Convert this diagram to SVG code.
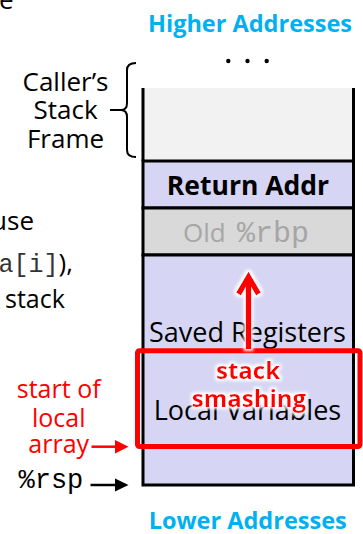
<svg xmlns="http://www.w3.org/2000/svg" width="363" height="534" viewBox="0 0 363 534">
<style>
.sans{font-family:"Open Sans","Liberation Sans",sans-serif}
.mono{font-family:"Liberation Mono","Courier New",monospace}
.addr{font-family:"Open Sans","Liberation Sans",sans-serif;font-weight:bold;font-size:23.5px;fill:#00b0f0;text-anchor:middle}
.box{stroke:#000;stroke-width:3}
.lab{font-family:"Open Sans","Liberation Sans",sans-serif;font-size:27px;fill:#000;text-anchor:middle}
.red{fill:#ff0000}
</style>
<defs>
<filter id="glow" x="-30%" y="-30%" width="160%" height="160%">
<feMorphology in="SourceAlpha" operator="dilate" radius="2" result="d"/>
<feGaussianBlur in="d" stdDeviation="1.5" result="b"/>
<feFlood flood-color="#ffffff"/>
<feComposite in2="b" operator="in" result="g"/>
<feMerge><feMergeNode in="g"/><feMergeNode in="SourceGraphic"/></feMerge>
</filter>
</defs>

<g id="left-fragments" class="sans" font-size="26" fill="#000">
<text x="-1" y="9">e</text>
<text x="34" y="230" text-anchor="end">use</text>
<text x="73" y="272" text-anchor="end"><tspan class="mono" font-size="25" fill="#333">a[i]</tspan>),</text>
<text x="5" y="308" font-size="25">stack</text>
</g>

<text id="higher" class="addr" x="250" y="32">Higher Addresses</text>
<g id="dots" fill="#000">
<circle cx="228.3" cy="61" r="2.2"/>
<circle cx="247.5" cy="61" r="2.2"/>
<circle cx="266.7" cy="61" r="2.2"/>
</g>

<g id="callers-frame">
<rect x="143" y="88" width="210.5" height="73" fill="#f2f2f2"/>
<line x1="143" y1="88" x2="143" y2="161" class="box"/>
<line x1="353.5" y1="88" x2="353.5" y2="161" class="box"/>
</g>

<g id="callers-label">
<text class="sans" font-size="26" text-anchor="middle" x="65.5" y="90.7">Caller’s</text>
<text class="sans" font-size="26" text-anchor="middle" x="65.5" y="119.3">Stack</text>
<text class="sans" font-size="26" text-anchor="middle" x="65.5" y="147.7">Frame</text>
<path d="M136,63 Q127,63 127,70 L127,103 Q127,110 121,110 L110,110 M121,110 Q127,110 127,117 L127,150 Q127,157 136,157" fill="none" stroke="#000" stroke-width="2"/>
</g>

<g id="return-addr">
<rect x="143" y="161" width="210.5" height="47" fill="#d6d6f4" class="box"/>
<text class="sans" font-size="26.5" font-weight="bold" text-anchor="middle" x="248" y="195">Return Addr</text>
</g>

<g id="old-rbp">
<rect x="143" y="208" width="210.5" height="47" fill="#d9d9d9" class="box"/>
<text class="sans" font-size="26" fill="#a6a6a6" x="183" y="241.7">Old<tspan class="mono" font-size="30" x="237">%rbp</tspan></text>
</g>

<g id="saved-regs">
<rect x="143" y="255" width="210.5" height="230" fill="#d6d6f4" class="box"/>
<text class="lab" x="247.5" y="341.7">Saved Registers</text>
</g>

<g id="local-vars">
<text class="lab" x="247.5" y="420">Local Variables</text>
</g>

<g id="smash-region">
<rect x="137.5" y="350.8" width="222.5" height="95.7" rx="2" fill="none" stroke="#ff0000" stroke-width="5"/>
</g>

<g id="connectors">
<g id="smash-arrow" filter="url(#glow)" fill="none" stroke="#ff0000" stroke-width="5.5">
<line x1="248.5" y1="349" x2="248.5" y2="279"/>
<polyline points="238.5,294 248.5,277 258.5,294" stroke-linejoin="miter"/>
</g>
<line x1="91.5" y1="446.7" x2="117" y2="446.7" stroke="#ff0000" stroke-width="2.5"/>
<polygon points="128.5,446.7 115,440 115,453.4" fill="#ff0000"/>
<line x1="90.5" y1="485" x2="117" y2="485" stroke="#000" stroke-width="2.5"/>
<polygon points="128.5,485 115,478.5 115,491.5" fill="#000"/>
</g>

<g id="stack-smashing" filter="url(#glow)">
<text class="sans red" font-size="24" font-weight="bold" text-anchor="middle" x="248" y="379">stack</text>
<text class="sans red" font-size="24" font-weight="bold" text-anchor="middle" x="249" y="406.5">smashing</text>
</g>

<g id="start-local-array">
<text class="sans red" font-size="25" text-anchor="middle" x="58.7" y="398.3">start of</text>
<text class="sans red" font-size="25" text-anchor="middle" x="58.7" y="426.7">local</text>
<text class="sans red" font-size="25" text-anchor="middle" x="58.7" y="452.5">array</text>
</g>

<g id="rsp">
<text class="mono" font-size="27" fill="#000" x="18.5" y="488">%rsp</text>
</g>

<text id="lower" class="addr" x="247.7" y="529">Lower Addresses</text>
</svg>
